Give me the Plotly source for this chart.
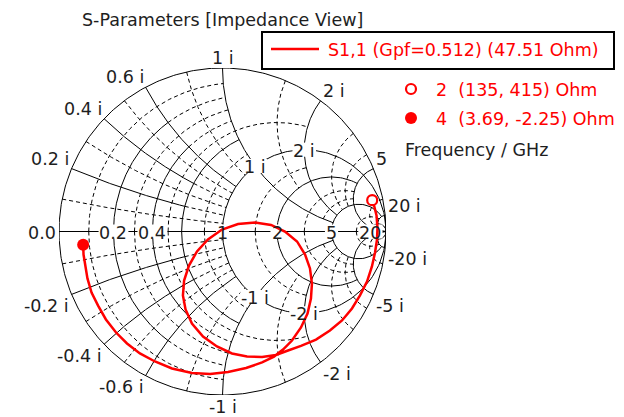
import numpy as np
import plotly.graph_objects as go

# ---- data ---------------------------------------------------------------
Z0 = 47.51          # port reference impedance (Ohm)
GPF = 0.512

# S1,1 reflection coefficient, 2 GHz -> 4 GHz
s11_re = [0.9157, 0.927, 0.942, 0.948, 0.945, 0.933, 0.914, 0.884, 0.841, 0.792,
          0.731, 0.657, 0.572, 0.480, 0.401, 0.327, 0.242, 0.150, 0.058, -0.034,
          -0.119, -0.187, -0.226, -0.242, -0.235, -0.205, -0.156, -0.089, -0.003, 0.095,
          0.199, 0.297, 0.382, 0.456, 0.505, 0.535, 0.547, 0.541, 0.520, 0.480,
          0.425, 0.370, 0.315, 0.242, 0.144, 0.034, -0.076, -0.187, -0.309, -0.413,
          -0.505, -0.584, -0.651, -0.713, -0.761, -0.801, -0.826, -0.841, -0.850, -0.8522]
s11_im = [0.1919, 0.159, 0.098, 0.024, -0.049, -0.128, -0.214, -0.306, -0.391, -0.471,
          -0.544, -0.606, -0.661, -0.700, -0.728, -0.755, -0.768, -0.765, -0.746, -0.703,
          -0.642, -0.563, -0.477, -0.391, -0.300, -0.208, -0.122, -0.049, 0.012, 0.046,
          0.055, 0.040, 0.000, -0.061, -0.141, -0.226, -0.318, -0.410, -0.502, -0.587,
          -0.667, -0.722, -0.765, -0.801, -0.835, -0.859, -0.872, -0.865, -0.838, -0.795,
          -0.746, -0.685, -0.618, -0.538, -0.453, -0.373, -0.287, -0.208, -0.141, -0.0815]

# frequency markers (GHz) with their impedances (Ohm)
mk_freq = [2, 4]
mk_R = [135, 3.69]
mk_X = [415, -2.25]

# chart tick labels
real_ticks = [0.2, 0.4, 1, 2, 5, 20]
imag_ticks = [0.2, 0.4, 0.6, 1, 2, 5, 20]
imag_pos_text = ["0.2 i", "0.4 i", "0.6 i", "1 i", "2 i", "5", "20 i"]
imag_neg_text = ["-0.2 i", "-0.4 i", "-0.6 i", "-1 i", "-2 i", "-5 i", "-20 i"]
inner_ticks = [1, 2, -1, -2]

# ---- geometry helpers ---------------------------------------------------
L, T, SIZE = 59, 68, 327          # plot area (px)
W_FIG, H_FIG = 624, 417
RPX = SIZE / 2.0
FONT = "DejaVu Sans"
FS = 17.5
RED = "#ff0000"
TXT = "#1e1e1e"
INF = np.inf


def gam(z):
    return (z - 1) / (z + 1)


def px_to_paper(x, y):
    return (x - L) / SIZE, (T + SIZE - y) / SIZE


def r_arc(r, x0, x1, n=160):
    t = np.linspace(np.arctan(x0), np.arctan(x1), n)
    x = np.tan(np.minimum(t, np.pi / 2 - 1e-9))
    return gam(r + 1j * x)


def x_arc(x, r0, r1, n=160):
    t = np.linspace(np.arctan(r0), np.arctan(r1), n)
    r = np.tan(np.minimum(t, np.pi / 2 - 1e-9))
    return gam(r + 1j * x)


# grid: (value, from, to, solid?)
r_grid = [
    (0.1, 0, 1, False),
    (0.2, 0, 0.6, True), (0.2, 0.6, 1, False),
    (0.3, 0, 1, False),
    (0.4, 0, 0.6, True), (0.4, 0.6, 1, False),
    (0.5, 0, 2, False),
    (0.6, 0, 1, True),
    (0.8, 0, 1, False),
    (1, 0, INF, True),
    (1.5, 0, 2, False),
    (2, 0, 5, True),
    (3, 0, 5, False),
    (4, 1, 5, False),
    (5, 0, 20, True),
    (10, 0, 20, False),
    (20, 0, INF, True),
]
x_grid = [
    (0.1, 0, 1, False),
    (0.2, 0, 0.6, True), (0.2, 0.6, 1, False),
    (0.3, 0, 1, False),
    (0.4, 0, 0.6, True), (0.4, 0.6, 1, False),
    (0.5, 0, 1, False),
    (0.6, 0, 1, True),
    (0.8, 0, 1, False),
    (1, 0, 5, True),
    (1.5, 0, 2, False),
    (2, 0, 5, True),
    (3, 0, 5, False),
    (4, 0, 5, False),
    (5, 0, 20, True),
    (10, 0, 20, False),
    (20, 0, INF, True),
]

seg = {True: ([], []), False: ([], [])}


def add(g, solid):
    xs, ys = seg[solid]
    xs.extend(g.real.tolist() + [None])
    ys.extend(g.imag.tolist() + [None])


for v, a, b, s in r_grid:
    add(r_arc(v, a, b), s)
    add(r_arc(v, -a, -b), s)
for v, a, b, s in x_grid:
    add(x_arc(v, a, b), s)
    add(x_arc(-v, a, b), s)

th = np.linspace(0, 2 * np.pi, 400)
add(np.exp(1j * th), True)
add(np.array([-1 + 0j, 1 + 0j]), True)

fig = go.Figure()
fig.add_trace(go.Scatter(x=seg[True][0], y=seg[True][1], mode="lines",
                         line=dict(color="black", width=1), hoverinfo="skip"))
fig.add_trace(go.Scatter(x=seg[False][0], y=seg[False][1], mode="lines",
                         line=dict(color="black", width=1, dash="4px,3px"), hoverinfo="skip"))

# ---- labels -------------------------------------------------------------
CW = {".": 0.318, " ": 0.318, "i": 0.278, "-": 0.361}


def text_w(s):
    return sum(CW.get(c, 0.636) for c in s) * FS


annotations = []
mask_x, mask_y = [], []


def inner_label(g, text):
    hw = (text_w(text) / 2 + 1) / RPX
    hh = 7 / RPX
    gx, gy = g.real, g.imag
    mask_x.extend([gx - hw, gx + hw, gx + hw, gx - hw, gx - hw, None])
    mask_y.extend([gy - hh, gy - hh, gy + hh, gy + hh, gy - hh, None])
    px, py = (gx + 1) / 2, (gy + 1) / 2
    annotations.append(dict(x=px, y=py, xref="paper", yref="paper", text=text,
                            showarrow=False, xanchor="center", yanchor="middle", yshift=-1,
                            font=dict(family=FONT, size=FS, color=TXT)))


for v in real_ticks:
    inner_label(gam(complex(v, 0)), f"{v:g}")
for v in inner_ticks:
    inner_label(gam(complex(1, v)), f"{v:g} i")


def outer_label(g, text):
    ang = np.angle(g)
    c, s = np.cos(ang), np.sin(ang)
    xa = "left" if c > 0.15 else ("right" if c < -0.15 else "center")
    ya = "bottom" if s > 0.05 else ("top" if s < -0.05 else "middle")
    dy = s - 2 if ya == "bottom" else (0.5 * s if ya == "top" else -1)
    annotations.append(dict(x=(g.real + 1) / 2, y=(g.imag + 1) / 2, xref="paper", yref="paper",
                            text=text, showarrow=False, xanchor=xa, yanchor=ya,
                            xshift=2 * c, yshift=dy, borderpad=0,
                            font=dict(family=FONT, size=FS, color=TXT)))


outer_label(complex(-1, 0), "0.0")
for v, tp, tn in zip(imag_ticks, imag_pos_text, imag_neg_text):
    outer_label(gam(complex(0, v)), tp)
    outer_label(gam(complex(0, -v)), tn)

fig.add_trace(go.Scatter(x=mask_x, y=mask_y, mode="lines", fill="toself",
                         fillcolor="white", line=dict(width=0, color="white"),
                         hoverinfo="skip"))

# ---- S1,1 trace and markers --------------------------------------------
fig.add_trace(go.Scatter(x=s11_re, y=s11_im, mode="lines",
                         line=dict(color=RED, width=2.5), hoverinfo="skip"))

mk_g = [gam(complex(r, x) / Z0) for r, x in zip(mk_R, mk_X)]
fig.add_trace(go.Scatter(x=[mk_g[0].real], y=[mk_g[0].imag], mode="markers",
                         marker=dict(size=10, color="white", line=dict(color=RED, width=2.2))))
fig.add_trace(go.Scatter(x=[mk_g[1].real], y=[mk_g[1].imag], mode="markers",
                         marker=dict(size=12, color=RED, line=dict(width=0))))

# ---- title and legend ---------------------------------------------------
shapes = []
annotations.append(dict(x=px_to_paper(80, 0)[0], y=px_to_paper(0, 20)[1], xref="paper", yref="paper",
                        text="S-Parameters [Impedance View]", showarrow=False,
                        xanchor="left", yanchor="middle",
                        font=dict(family=FONT, size=FS, color=TXT)))

bx0, by0 = px_to_paper(262, 69)
bx1, by1 = px_to_paper(614, 32)
shapes.append(dict(type="rect", xref="paper", yref="paper", x0=bx0, y0=by0, x1=bx1, y1=by1,
                   line=dict(color="black", width=2), fillcolor="white", layer="above"))
lx0, ly = px_to_paper(271, 49)
lx1, _ = px_to_paper(319, 49)
shapes.append(dict(type="line", xref="paper", yref="paper", x0=lx0, y0=ly, x1=lx1, y1=ly,
                   line=dict(color=RED, width=2.5), layer="above"))
tx, ty = px_to_paper(326, 50)
annotations.append(dict(x=tx, y=ty, xref="paper", yref="paper",
                        text=f"S1,1 (Gpf={GPF}) ({Z0} Ohm)", showarrow=False,
                        xanchor="left", yanchor="middle",
                        font=dict(family=FONT, size=FS, color=RED)))

for k, (f, r, x, yy) in enumerate(zip(mk_freq, mk_R, mk_X, [89, 118])):
    cx, cy = px_to_paper(411, yy)
    rr = 5 / SIZE
    if k == 0:
        shapes.append(dict(type="circle", xref="paper", yref="paper",
                           x0=cx - rr, x1=cx + rr, y0=cy - rr, y1=cy + rr,
                           line=dict(color=RED, width=2.2), fillcolor="white"))
    else:
        rr = 6 / SIZE
        shapes.append(dict(type="circle", xref="paper", yref="paper",
                           x0=cx - rr, x1=cx + rr, y0=cy - rr, y1=cy + rr,
                           line=dict(color=RED, width=0), fillcolor=RED))
    tx, ty = px_to_paper(434, yy + 1)
    annotations.append(dict(x=tx, y=ty, xref="paper", yref="paper",
                            text=f"{f:g}\u00a0\u00a0({r:g}, {x:g}) Ohm", showarrow=False,
                            xanchor="left", yanchor="middle",
                            font=dict(family=FONT, size=FS, color=RED)))

fx, fy = px_to_paper(403, 150)
annotations.append(dict(x=fx, y=fy, xref="paper", yref="paper", text="Frequency / GHz",
                        showarrow=False, xanchor="left", yanchor="middle",
                        font=dict(family=FONT, size=FS, color=TXT)))

fig.update_layout(
    width=W_FIG, height=H_FIG,
    margin=dict(l=L, r=W_FIG - L - SIZE, t=T, b=H_FIG - T - SIZE, pad=0),
    paper_bgcolor="white", plot_bgcolor="white",
    showlegend=False,
    xaxis=dict(range=[-1, 1], visible=False, fixedrange=True),
    yaxis=dict(range=[-1, 1], visible=False, fixedrange=True),
    annotations=annotations, shapes=shapes,
    font=dict(family=FONT),
)

fig.write_html("out.html")
